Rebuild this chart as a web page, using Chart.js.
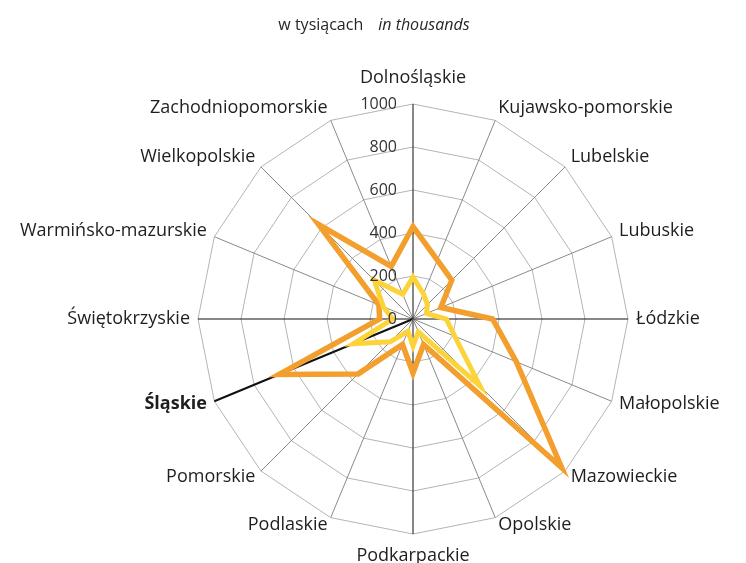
<!DOCTYPE html>
<html>
<head>
<meta charset="utf-8">
<script src="https://cdn.jsdelivr.net/npm/chart.js@4"></script>
<style>
  body { margin: 0; background: #fff; }
</style>
</head>
<body>
<canvas id="chart1" width="746" height="563"></canvas>
<script>
// województwa, clockwise from the top
const regions = [
  "Dolnośląskie", "Kujawsko-pomorskie", "Lubelskie", "Lubuskie",
  "Łódzkie", "Małopolskie", "Mazowieckie", "Opolskie",
  "Podkarpackie", "Podlaskie", "Pomorskie", "Śląskie",
  "Świętokrzyskie", "Warmińsko-mazurskie", "Wielkopolskie", "Zachodniopomorskie"
];
const seriesOrange = [430, 296, 255, 140, 370, 520, 978, 128, 251, 128, 361, 674, 155, 172, 622, 265];
const seriesYellow = [195, 127, 95, 68, 155, 210, 440, 65, 125, 62, 150, 300, 95, 150, 255, 125];
const tickValues = [0, 200, 400, 600, 800, 1000];
const boldIndex = 11; // Śląskie

const FONT = '"Open Sans", "DejaVu Sans", sans-serif';

// title, tick numbers and category names drawn by hand
const overlay = {
  id: "overlay",
  afterDraw(chart) {
    const r = chart.scales.r;
    const ctx = chart.ctx;
    ctx.save();

    // title: "w tysiącach   in thousands"
    ctx.fillStyle = "#262626";
    ctx.textBaseline = "middle";
    ctx.textAlign = "left";
    const t1 = "w tysiącach", t2 = "in thousands";
    ctx.font = "16px " + FONT;
    const w1 = ctx.measureText(t1).width;
    ctx.font = "italic 16px " + FONT;
    const w2 = ctx.measureText(t2).width;
    const gap = 15;
    let x0 = 374 - (w1 + gap + w2) / 2;
    ctx.font = "16px " + FONT;
    ctx.fillText(t1, x0, 25);
    ctx.font = "italic 16px " + FONT;
    ctx.fillText(t2, x0 + w1 + gap, 25);

    // tick numbers, left of the vertical axis
    ctx.font = "16px " + FONT;
    ctx.fillStyle = "#333";
    ctx.textAlign = "right";
    tickValues.forEach(v => {
      ctx.fillText(String(v), r.xCenter - 16, r.yCenter - r.getDistanceFromCenterForValue(v));
    });

    // category names
    ctx.fillStyle = "#1e1e1e";
    regions.forEach((name, i) => {
      const p = r.getPointPosition(i, r.drawingArea + 8);
      const a = i * Math.PI * 2 / regions.length;
      const s = Math.sin(a), c = Math.cos(a);
      ctx.font = (i === boldIndex ? "bold " : "") + "18px " + FONT;
      let y = p.y;
      if (Math.abs(s) < 0.01) {
        ctx.textAlign = "center";
        ctx.textBaseline = c > 0 ? "bottom" : "top";
        y += c > 0 ? -9 : 5;
      } else {
        ctx.textAlign = s > 0 ? "left" : "right";
        ctx.textBaseline = "middle";
        y -= 6 * Math.max(0, c);
      }
      ctx.fillText(name, p.x, y);
    });
    ctx.restore();
  }
};

const isAxis = i => i % 4 === 0;

const dataset = {
  labels: regions,
  datasets: [
    {
      label: "yellow",
      data: seriesYellow,
      borderColor: "#FDD33A",
      borderWidth: 5,
      borderJoinStyle: "miter",
      fill: false,
      pointRadius: 0,
      order: 0,
    },
    {
      label: "orange",
      data: seriesOrange,
      borderColor: "#F29F2E",
      borderWidth: 5.5,
      borderJoinStyle: "miter",
      fill: false,
      pointRadius: 0,
      order: 1,
    },
  ],
};

const config = {
  type: "radar",
  data: dataset,
  plugins: [overlay],
  options: {
    responsive: false,
    animation: false,
    layout: { padding: { left: 163, right: 83, top: 104, bottom: 28 } },
    plugins: {
      legend: { display: false },
      tooltip: { enabled: false },
    },
    scales: {
      r: {
        min: 0,
        max: 1000,
        ticks: { display: false, stepSize: 200 },
        pointLabels: { display: false },
        grid: { color: "#b4b4b4", lineWidth: 1 },
        angleLines: {
          color: c => (isAxis(c.index) || c.index === boldIndex) ? "#111" : "#8a8a8a",
          lineWidth: c => c.index === boldIndex ? 2 : 1,
        },
      },
    },
  },
};

const chart = new Chart(document.getElementById("chart1"), config);
</script>
</body>
</html>
